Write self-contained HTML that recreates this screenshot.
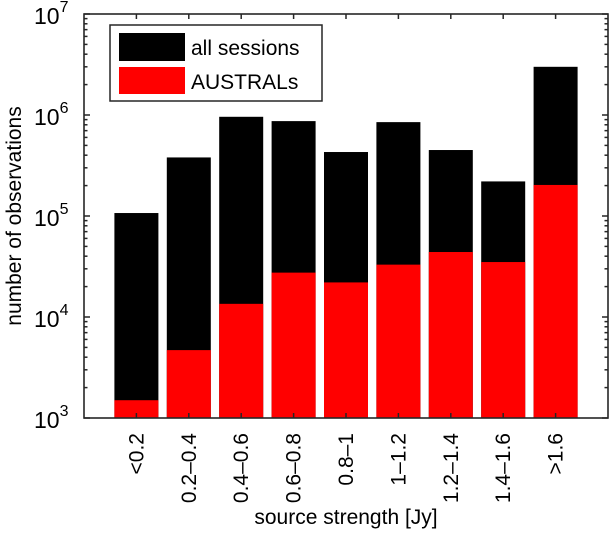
<!DOCTYPE html>
<html><head><meta charset="utf-8"><style>
body{margin:0;background:#fff}
svg{font-family:"Liberation Sans",Arial,sans-serif}
</style></head><body>
<svg id="c" width="613" height="549"></svg>
<script>
const categories=["<0.2","0.2–0.4","0.4–0.6","0.6–0.8","0.8–1","1–1.2","1.2–1.4","1.4–1.6",">1.6"];
const allSessions=[1.07e5,3.8e5,9.6e5,8.7e5,4.3e5,8.5e5,4.5e5,2.2e5,3.0e6];
const australs=[1.5e3,4.7e3,1.35e4,2.75e4,2.2e4,3.3e4,4.4e4,3.5e4,2.03e5];
const yTickExps=[3,4,5,6,7];

const L=84,R=608,T=14,B=418;
const svg=document.getElementById('c');
const NS='http://www.w3.org/2000/svg';
function xs(i){return L+(i+1)*(R-L)/10;}
function ys(v){return B-(Math.log10(v)-3)*(B-T)/4;}
function mk(t,a,p){const e=document.createElementNS(NS,t);for(const k in a)e.setAttribute(k,a[k]);(p||svg).appendChild(e);return e;}
const bw=44;
categories.forEach((c,i)=>{
  const x=xs(i)-bw/2;
  let r=mk('rect',{x:x,y:ys(allSessions[i]),width:bw,height:B-ys(allSessions[i]),fill:'#000'});
  
  
  r=mk('rect',{x:x,y:ys(australs[i]),width:bw,height:B-ys(australs[i]),fill:'#f00'});
  
  
  mk('line',{x1:xs(i),x2:xs(i),y1:T,y2:T+5,stroke:'#262626','stroke-width':1.5});
  mk('line',{x1:xs(i),x2:xs(i),y1:B,y2:B-5,stroke:'#262626','stroke-width':1.5});
  const t=mk('text',{x:0,y:0,'font-size':21,fill:'#000','text-anchor':'end',transform:`translate(${xs(i)+7},433) rotate(-90)`});
  t.textContent=c;
  
  
});
yTickExps.forEach((e,k)=>{
  const y=ys(Math.pow(10,e));
  mk('line',{x1:L,x2:L+6,y1:y,y2:y,stroke:'#262626','stroke-width':1.5});
  mk('line',{x1:R,x2:R-6,y1:y,y2:y,stroke:'#262626','stroke-width':1.5});
  const t=mk('text',{x:34,y:y+10,'font-size':23,fill:'#000'});
  t.innerHTML='10<tspan dy="-12" font-size="16">'+e+'</tspan>';
  
  
  if(k<yTickExps.length-1){for(let m=2;m<=9;m++){const yy=ys(m*Math.pow(10,e));
    mk('line',{x1:L,x2:L+3.5,y1:yy,y2:yy,stroke:'#262626','stroke-width':1.5});
    mk('line',{x1:R,x2:R-3.5,y1:yy,y2:yy,stroke:'#262626','stroke-width':1.5});}}
});
const ax=mk('rect',{x:L,y:T,width:R-L,height:B-T,fill:'none',stroke:'#262626','stroke-width':1.6});


</script>
<svg style="position:absolute;left:0;top:0" width="613" height="549">
<g>
<rect x="110" y="25" width="212" height="76" fill="#fff" stroke="#262626" stroke-width="1.5"/>
<rect x="119" y="33" width="66" height="28" fill="#000"/>
<rect x="119" y="67" width="66" height="27" fill="#f00"/>
<text x="191" y="55" font-size="21" font-family="Liberation Sans,sans-serif">all sessions</text>
<text x="191" y="89" font-size="21" font-family="Liberation Sans,sans-serif">AUSTRALs</text>
</g>
<text x="346" y="524" font-size="21" text-anchor="middle" font-family="Liberation Sans,sans-serif">source strength [Jy]</text>
<text transform="translate(21,216) rotate(-90)" font-size="21" text-anchor="middle" font-family="Liberation Sans,sans-serif">number of observations</text>
</svg>
</body></html>
